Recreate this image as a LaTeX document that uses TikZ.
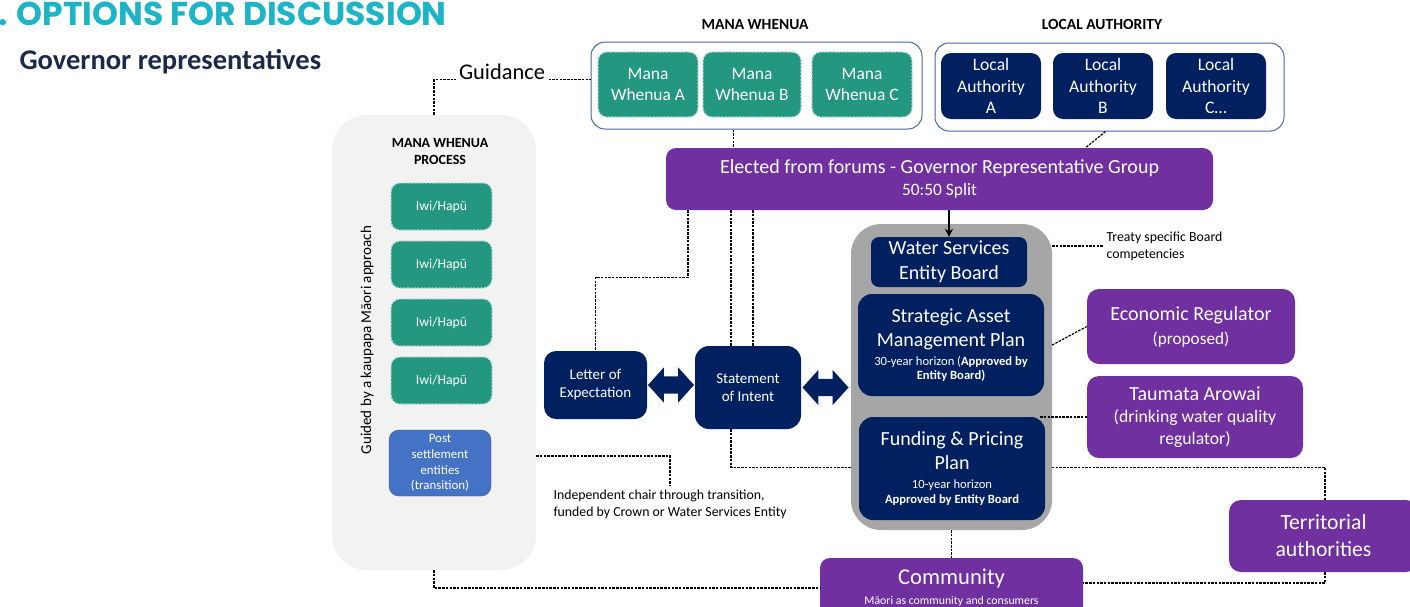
\documentclass[tikz,border=0pt]{standalone}
\usepackage{fontspec}
\setmainfont{Carlito}
\newfontfamily\titlefont{Poppins}
\usetikzlibrary{arrows.meta, calc, shapes.arrows, backgrounds}
\definecolor{navy}{HTML}{002060}
\definecolor{mwteal}{HTML}{23977F}
\definecolor{purp}{HTML}{7030A0}
\definecolor{ttl}{HTML}{1CB5C7}
\definecolor{subttl}{HTML}{1B2A49}
\definecolor{psblue}{HTML}{4472C4}
\definecolor{grpline}{HTML}{4A66A6}
\newcommand{\fsz}[2]{\fontsize{#1}{#2}\selectfont}
\tikzset{
  link/.style={line width=1.2pt, dash pattern=on 2.5pt off 1.2pt},
  sz/.style 2 args={minimum width=#1pt, minimum height=#2pt},
  tealbox/.style={fill=mwteal, draw=mwteal!35!white, dash pattern=on 2pt off 1.5pt, line width=1.2pt, rounded corners=9pt, text=white, align=center, inner sep=0pt},
  navybox/.style={fill=navy, rounded corners=10pt, text=white, align=center, inner sep=0pt},
  purpbox/.style={fill=purp, rounded corners=12pt, text=white, align=center, inner sep=0pt},
  grp/.style={draw=grpline, line width=1pt, rounded corners=14pt},
  dblarrow/.style={double arrow, fill=navy, minimum height=46pt, inner xsep=0pt, inner ysep=8.5pt, double arrow head extend=9pt, double arrow tip angle=96}
}

\begin{document}
\begin{tikzpicture}[x=1pt, y=-1pt]
	\useasboundingbox (0,0) rectangle (1410,606);
	% headings
	\node[anchor=base east, inner sep=0pt, text=ttl, font=\titlefont\bfseries\fsz{33}{33}] (title) at (447,25) {1. OPTIONS FOR DISCUSSION};
	\node[anchor=base west, text=subttl, font=\bfseries\fsz{28.5}{28.5}] (sub) at (16,69) {Governor representatives};
	
	% mana whenua process
	\node[fill=black!5, rounded corners=35pt, sz={204}{455}] (panel) at (434,342.5) {};
	\node[font=\bfseries\fsz{14}{17}, align=center] (mwp) at (440,152) {MANA WHENUA\\PROCESS};
	\node[rotate=90, font=\fsz{15}{15}] (guided) at (367,340) {Guided by a kaupapa Māori approach};
	\foreach \i/\y in {1/206.5, 2/264.5, 3/322.5, 4/380.5}
		\node[tealbox, sz={101}{47}, font=\fsz{13.7}{16}] (iwi\i) at (441.5,\y) {Iwi/Hapū};
	\node[fill=psblue, draw=psblue!70!black, rounded corners=10pt, sz={102}{66}, text=white, align=center, inner sep=0pt, font=\fsz{12.9}{15.8}] (pse) at (440,463) {Post\\settlement\\entities\\(transition)};
	\node[font=\fsz{22.4}{22.4}] (guid) at (502,72) {Guidance};
	
	% forums
	\node[grp, sz={331}{87}] (mwgrp) at (756.5,85.5) {};
	\node[font=\bfseries\fsz{15.5}{15.5}] (mwlbl) at (755,25) {MANA WHENUA};
	\foreach \n/\x/\w in {A/648/100, B/752/98, C/862/100}
		\node[tealbox, sz={\w}{65}, font=\fsz{17.4}{21}] (mw\n) at (\x,84.5) {Mana\\Whenua \n};
	\node[grp, sz={349}{88}] (lagrp) at (1109.5,87) {};
	\node[font=\bfseries\fsz{15.5}{15.5}] (lalbl) at (1102,24) {LOCAL AUTHORITY};
	\foreach \n/\x/\t in {A/991/A, B/1103/B, C/1216/C…}
		\node[navybox, sz={100}{66}, font=\fsz{17.6}{21.5}] (la\n) at (\x,86) {Local\\Authority\\\t};
	\node[purpbox, rounded corners=10pt, sz={547}{62}, font=\fsz{20}{22}] (elect) at (939.5,179) {Elected from forums - Governor Representative Group\\\fsz{17.4}{22}50:50 Split};
	
	% entity
	\node[fill=black!35, rounded corners=30pt, sz={201}{306}] (cont) at (951.5,377) {};
	\node[navybox, rounded corners=8pt, sz={156}{50}, font=\fsz{20}{25}] (wse) at (949,262) {Water Services\\Entity Board};
	\node[navybox, rounded corners=14pt, sz={186}{102}, font=\fsz{20}{24}] (samp) at (951,345) {Strategic Asset\\Management Plan\\[-5pt]\fsz{12.6}{15}30-year horizon (\textbf{Approved by}\\[-10pt]\fsz{12.6}{15}\textbf{Entity Board)}};
	\node[navybox, rounded corners=14pt, sz={186}{103}, font=\fsz{20}{24}] (fpp) at (952,468.5) {Funding \& Pricing\\Plan\\[-5pt]\fsz{12.6}{15}10-year horizon\\[-9pt]\fsz{12.6}{15}\textbf{Approved by Entity Board}};
	\node[anchor=west, align=left, font=\fsz{13.8}{17}] (treaty) at (1103,246) {Treaty specific Board\\competencies};
	
	% regulators and others
	\node[purpbox, sz={208}{75}, font=\fsz{20}{24}] (er) at (1191,326.5) {Economic Regulator\\\fsz{17.2}{24}(proposed)};
	\node[purpbox, sz={216}{82}, font=\fsz{20}{22}] (ta) at (1195,417) {Taumata Arowai\\\fsz{17.7}{22}(drinking water quality\\\fsz{17.7}{22}regulator)};
	\node[purpbox, sz={189}{72}, font=\fsz{21.7}{27}] (terr) at (1323.5,536) {Territorial\\authorities};
	\node[purpbox, rounded corners=10pt, sz={263}{60}, font=\fsz{22.6}{20}] (comm) at (951.5,588) {Community\\\fsz{11.8}{17}Māori as community and consumers};
	
	% letter and statement
	\node[navybox, rounded corners=12pt, sz={103}{68}, font=\fsz{15}{18}] (loe) at (595.5,385) {Letter of\\Expectation};
	\node[navybox, rounded corners=14pt, sz={106}{83}, font=\fsz{15}{18}] (soi) at (748,387.5) {Statement\\of Intent};
	\node[dblarrow] (arr1) at (671,385) {};
	\node[dblarrow] (arr2) at (825.5,387.5) {};
	\node[anchor=north west, align=left, font=\fsz{13.8}{17}] (indep) at (550,486) {Independent chair through transition,\\funded by Crown or Water Services Entity};
	
	% connectors
	\draw[link] (panel.north) |- (guid.base west);
	\draw[link] (guid.base east) -- (guid.base east -| mwgrp.west);
	\coordinate (mwdrop) at ($(mwgrp.south)+(-23,0)$);
	\draw[link] (mwdrop) -- (mwdrop |- elect.north);
	\draw[link] ($(lagrp.south)+(-4,0)$) -- ($(elect.north)+(146,0)$);
	\draw[-{Stealth[length=8pt,width=8pt]}, line width=1.2pt] (wse.north |- elect.south) -- (wse.north);
	\draw[link] ($(elect.south)+(-251.5,0)$) -- ++(0,67) -| (loe.north);
	\foreach \dx in {-17,5}
		\draw[link] ($(soi.north)+(\dx,0)$) -- ++(0,-136);
	\begin{scope}[on background layer]
		\draw[link] ($(soi.south)+(-17,0)$) -- ++(0,38) -| ($(terr.north)+(1.5,0)$);
	\end{scope}
	\draw[link] (cont.east |- treaty.west) -- (treaty.west);
	\draw[link] (cont.east |- samp.east) -- (er.west);
	\draw[link] ($(cont.east |- ta.west)+(-12,0)$) -- (ta.west);
	\draw[link] (cont.south) -- (comm.north);
	\draw[link] (panel.south) |- (comm.west);
	\draw[link] ($(terr.south)+(1.5,0)$) |- ($(comm.east)+(0,-5)$);
	\coordinate (psexit) at (panel.east |- pse.east);
	\draw[link] ($(psexit)+(0,-7)$) -| (indep.north);
\end{tikzpicture}
\end{document}
